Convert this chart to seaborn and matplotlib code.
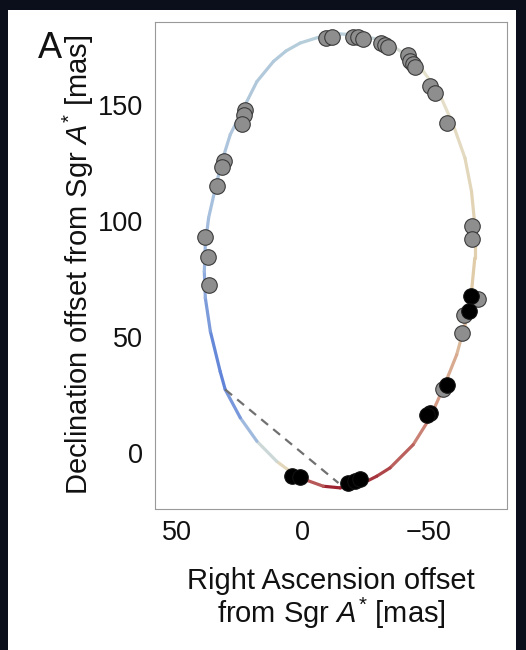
import matplotlib
matplotlib.use('Agg')
import matplotlib.pyplot as plt
import seaborn as sns
import numpy as np
from matplotlib.collections import LineCollection
from matplotlib.colors import LinearSegmentedColormap, Normalize
from matplotlib.patches import Rectangle
from matplotlib.ticker import MultipleLocator

# ---- orbit model curve ----
orbit_ra = [-15.0, -21.6, -30.8, -35.5, -40.1, -48.1, -54.6, -59.9, -64.6, -67.2, -68.5,
            -68.5, -67.2, -64.6, -61.3, -56.0, -50.7, -44.0, -34.8, -29.5, -24.2, -15.0,
            -8.3, 0.9, 5.5, 10.2, 18.1, 24.7, 30.7, 32.7, 36.6, 38.6, 39.0,
            38.6, 37.3, 34.6, 32.0, 28.7, 23.4, 18.1, 11.5, 6.5, 0.9, -7.0]
orbit_dec = [180.5, 180.2, 178.0, 175.5, 172.3, 164.4, 154.3, 141.4, 127.0, 112.6, 98.3,
             83.9, 69.5, 55.2, 42.2, 27.9, 15.0, 3.4, -6.6, -10.2, -13.1, -15.2,
             -14.5, -10.9, -7.6, -3.8, 4.9, 15.0, 27.2, 35.0, 52.3, 66.7, 78.1,
             89.7, 101.2, 114.1, 125.6, 137.1, 148.6, 160.0, 168.7, 173.2, 176.6, 179.3]
orbit_rv = [-0.35, -0.3, -0.2, -0.15, -0.1, 0.0, 0.05, 0.1, 0.15, 0.2, 0.25,
            0.3, 0.35, 0.42, 0.5, 0.58, 0.66, 0.75, 0.85, 0.9, 0.95, 1.0,
            0.95, 0.7, 0.35, 0.0, -0.4, -0.7, -0.92, -1.0, -0.85, -0.72, -0.62,
            -0.55, -0.5, -0.47, -0.45, -0.43, -0.42, -0.4, -0.39, -0.38, -0.37, -0.36]

# ---- astrometric points ----
gray_ra = [22.7, 23.4, 24.0, 31.3, 32.0, 34.0, 38.6, 37.7, 37.3,
           -9.4, -11.7, -20.2, -22.2, -24.2, -31.2, -32.8, -34.1, -42.1, -42.7,
           -44.0, -44.7, -50.7, -52.7, -57.3,
           -67.2, -67.2, -69.8, -64.3, -63.3, -56.0]
gray_dec = [147.8, 145.7, 141.7, 125.9, 123.0, 114.8, 92.8, 84.2, 72.4,
            178.7, 179.2, 179.4, 179.0, 178.4, 176.6, 175.9, 175.1, 171.6, 169.0,
            167.5, 166.1, 157.9, 155.0, 142.1,
            97.8, 92.2, 66.4, 59.5, 51.6, 27.6]
black_ra = [-66.9, -66.3, -57.3, -50.7, -49.6, 4.2, 0.9, -18.3, -20.9, -22.9]
black_dec = [67.4, 61.2, 29.3, 17.1, 16.1, -10.2, -10.5, -13.1, -12.1, -11.2]

line_ra = [30.7, -14.3]
line_dec = [27.2, -13.1]

x_ticks = [50, 0, -50]
y_ticks = [0, 50, 100, 150]

sns.set_style('white')
plt.rcParams['font.family'] = ['Liberation Sans', 'DejaVu Sans']
plt.rcParams['mathtext.fontset'] = 'custom'
plt.rcParams['mathtext.rm'] = 'Liberation Sans'
plt.rcParams['mathtext.it'] = 'Liberation Sans:italic'
plt.rcParams['axes.unicode_minus'] = True

fig = plt.figure(figsize=(5.26, 6.5), dpi=100, facecolor='#0b0f1c')
panel = Rectangle((8 / 526, 0), 508 / 526, 640 / 650, transform=fig.transFigure,
                  facecolor='white', edgecolor='none', zorder=-10)
fig.add_artist(panel)
ax = fig.add_axes([155 / 526, 1 - 508.5 / 650, 352 / 526, 486.8 / 650])
ax.set_facecolor('white')

# orbit with colour gradient
pts = np.column_stack([orbit_ra + orbit_ra[:1], orbit_dec + orbit_dec[:1]])
vals = np.array(orbit_rv + orbit_rv[:1])
segs = np.stack([pts[:-1], pts[1:]], axis=1)
segvals = (vals[:-1] + vals[1:]) / 2
cmap = LinearSegmentedColormap.from_list('rv', [
    (0.0, '#5b7fd8'), (0.22, '#9fb9de'), (0.33, '#b9cfda'), (0.5, '#e6e4d2'),
    (0.68, '#dfc9a4'), (0.82, '#d49a86'), (1.0, '#9b1c2c')])
lc = LineCollection(segs, cmap=cmap, norm=Normalize(-1, 1), linewidths=2.3,
                    capstyle='round', joinstyle='round', zorder=2)
lc.set_array(segvals)
ax.add_collection(lc)

ax.plot(line_ra, line_dec, color='#707070', lw=1.6, dashes=(4, 3), zorder=2.5)

sns.scatterplot(x=gray_ra, y=gray_dec, s=125, color='#8e8e8e', edgecolor='#3a3a3a',
                linewidth=0.8, ax=ax, zorder=3, legend=False)
sns.scatterplot(x=black_ra, y=black_dec, s=125, color='black', edgecolor='#111111',
                linewidth=0.8, ax=ax, zorder=4, legend=False)

ax.set_xlim(58.6, -81.3)
ax.set_ylim(-24.1, 185.8)
ax.set_xticks(x_ticks)
ax.set_yticks(y_ticks)
ax.yaxis.set_minor_locator(MultipleLocator(10))
ax.tick_params(which='major', direction='in', length=4.5, width=0.8, color='#999999',
               labelsize=19.5, pad=8.5, labelcolor='#111111')
ax.tick_params(which='minor', axis='y', direction='in', length=3, width=0.7, color='#999999')
ax.tick_params(axis='both', which='both', top=False, right=False)
for sp in ax.spines.values():
    sp.set_color('#999999')
    sp.set_linewidth(0.8)

ax.set_xlabel('Right Ascension offset\nfrom Sgr $A^{*}$ [mas]', fontsize=21,
              linespacing=1.05, color='#111111')
ax.set_ylabel('Declination offset from Sgr $A^{*}$ [mas]', fontsize=21, color='#111111')
ax.xaxis.set_label_coords(0.5, -0.12)
ax.yaxis.set_label_coords(-0.168, 0.5)

fig.text(50 / 526, 1 - 48 / 650, 'A', fontsize=26, ha='center', va='center', color='#111111')

fig.savefig('out.png', dpi=100, facecolor=fig.get_facecolor())
